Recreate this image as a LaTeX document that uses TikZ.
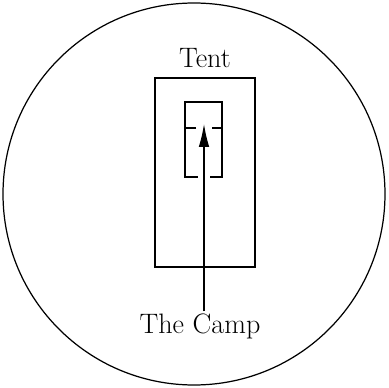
\documentclass[tikz,border=0pt]{standalone}
\usepackage{tikz}
\usetikzlibrary{arrows.meta, positioning}

\begin{document}
\begin{tikzpicture}[
    x=0.02cm, y=-0.02cm,
    caption/.style={font=\fontsize{16}{18}\selectfont, inner sep=1pt},
    wall/.style={line width=0.7pt},
    arrow/.style={line width=0.7pt, -{Latex[length=13pt, width=6pt]}}
]
    \useasboundingbox (0,0) rectangle (389,388);
    % camp ground
    \draw [wall] (194,194) circle [radius=191];
    % tent
    \draw [wall] (155,78) rectangle (255,267);
    \draw [wall] (196,128) -- (185,128) -- (185,177) -- (198,177);
    \draw [wall] (212,128) -- (222,128) -- (222,177) -- (210,177);
    \draw [wall] (185,128) -- (185,102) -- (222,102) -- (222,128);

    \node (tent) [caption] at (205,58) {Tent};
    \node (camp) [caption] at (200,326) {The Camp};
    \coordinate (door) at (204,124);

    \draw [arrow] (camp.north -| door) -- (door);
\end{tikzpicture}
\end{document}
